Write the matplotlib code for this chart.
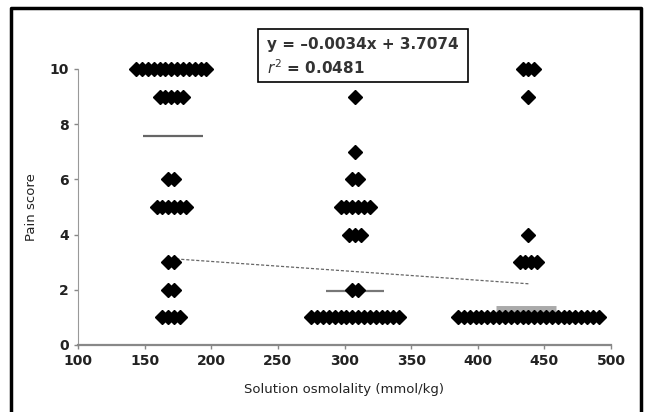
import numpy as np
import matplotlib.pyplot as plt
from matplotlib.lines import Line2D
from matplotlib.patches import Rectangle

# group centres (mmol/kg) and pain-score counts
group_x = [170, 308, 438]
scores = [
    [10, 9, 6, 5, 3, 2, 1],
    [9, 7, 6, 5, 4, 2, 1],
    [10, 9, 4, 3, 1],
]
counts = [
    [13, 5, 2, 6, 2, 2, 4],
    [1, 1, 2, 6, 3, 2, 16],
    [3, 1, 1, 4, 25],
]
# group summary lines: (x start, x end, y)
mean_lines = [(149, 194, 7.57), (286, 330, 1.95), (414, 459, 1.3)]
slope, intercept = -0.0034, 3.7074

fig = plt.figure(figsize=(6.47, 4.12), dpi=100)
ax = fig.add_axes([78 / 647, 1 - 345 / 412, 533 / 647, 276 / 412])

step = 4.4
for gx, sc, cn in zip(group_x, scores, counts):
    for s, n in zip(sc, cn):
        xs = gx + (np.arange(n) - (n - 1) / 2) * step
        ax.plot(xs, [s] * n, ls='none', marker='D', ms=6.8, color='black',
                clip_on=False, zorder=3)

styles = [('#666666', 1.6), ('#777777', 1.6), ('#aaaaaa', 5)]
for (x0, x1, y), (c, lw) in zip(mean_lines, styles):
    ax.plot([x0, x1], [y, y], color=c, lw=lw, solid_capstyle='butt', zorder=2)

rx = np.array([group_x[0], group_x[-1]])
ax.plot(rx, slope * rx + intercept, ls=(0, (2.5, 1.5)), color='#666666', lw=0.9, zorder=2)

ax.set_xlim(100, 500)
ax.set_ylim(0, 10)
ax.set_xticks(range(100, 501, 50))
ax.set_yticks(range(0, 11, 2))
for sp in ['top', 'right']:
    ax.spines[sp].set_visible(False)
ax.spines['bottom'].set_color('#888888')
ax.spines['bottom'].set_linewidth(1.6)
ax.spines['left'].set_color('#999999')
ax.spines['left'].set_linewidth(0.8)
ax.tick_params(axis='both', direction='out', length=3, width=1, color='#888888',
               labelsize=10, labelcolor='#222222')
for lab in ax.get_xticklabels() + ax.get_yticklabels():
    lab.set_fontweight('semibold')
ax.set_xlabel('Solution osmolality (mmol/kg)', fontsize=9.5, color='#222222', labelpad=11)
ax.set_ylabel('Pain score', fontsize=9.5, color='#222222', labelpad=8)

# equation box
fig.add_artist(Rectangle((258 / 647, 1 - 82 / 412), 210 / 647, 53 / 412,
                         transform=fig.transFigure, fill=False, ec='black', lw=1.2))
fig.text(267 / 647, 1 - 45 / 412, 'y = \u20130.0034x + 3.7074', fontsize=11,
         fontweight='bold', color='#333333', va='center')
fig.text(267 / 647, 1 - 68 / 412, r'$\mathit{r}^2$ = 0.0481', fontsize=11,
         fontweight='bold', color='#333333', va='center')

# frame around the figure (left, top, right)
fig.add_artist(Line2D([11 / 647, 11 / 647, 641 / 647, 641 / 647],
                      [0, 1 - 8 / 412, 1 - 8 / 412, 0],
                      transform=fig.transFigure, color='black', lw=2.5))

fig.savefig('out.png', dpi=100)
